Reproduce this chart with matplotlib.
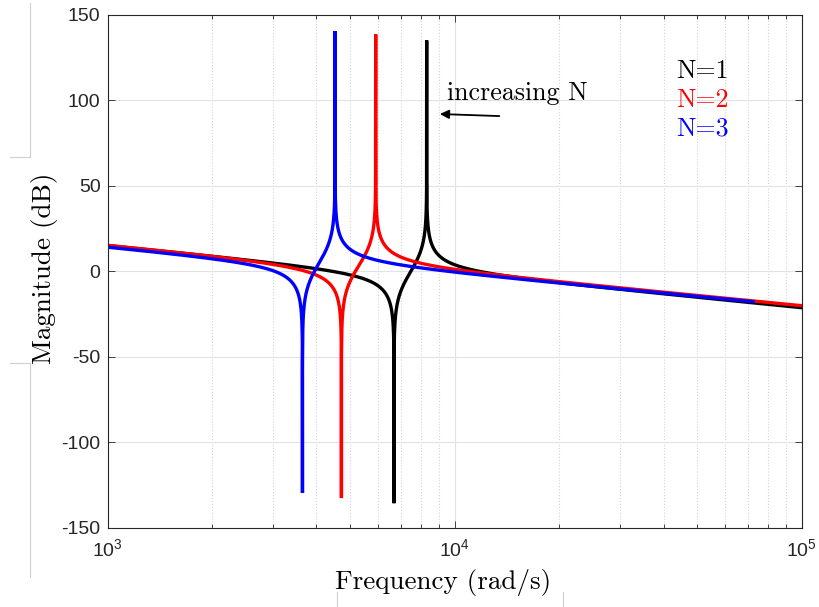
import numpy as np
import matplotlib
matplotlib.use("Agg")
import matplotlib.pyplot as plt
from matplotlib.lines import Line2D

plt.rcParams["font.family"] = ["Liberation Sans", "DejaVu Sans"]
plt.rcParams["axes.unicode_minus"] = False

# --- data -----------------------------------------------------------------
labels = ["N=1", "N=2", "N=3"]
colors = ["#000000", "#ff0000", "#0000ff"]
w_start = [1e3, 1e3, 1e3]              # rad/s
w_end = [1e5, 1e5, 7.24e4]             # rad/s
gain_1k = [15.2, 15.4, 14.4]           # dB at 1 krad/s
slope = [-20.1, -19.7, -19.3]          # dB/decade roll-off
w_zero = [6690.0, 4720.0, 3645.0]      # anti-resonance, rad/s
w_pole = [8309.0, 5925.0, 4524.0]      # resonance, rad/s
peak_db = [135.0, 138.5, 140.5]
notch_db = [-135.5, -132.5, -129.5]

x_ticks = [1e3, 1e4, 1e5]
y_ticks = [-150, -100, -50, 0, 50, 100, 150]


def magnitude_db(w, k):
    with np.errstate(divide="ignore"):
        m = (gain_1k[k] + slope[k] * np.log10(w / 1e3)
             + 20 * np.log10(np.abs(1 - (w / w_zero[k]) ** 2))
             - 20 * np.log10(np.abs(1 - (w / w_pole[k]) ** 2)))
    return np.clip(m, notch_db[k], peak_db[k])


# --- figure ---------------------------------------------------------------
W, H = 819, 607
fig = plt.figure(figsize=(W / 100, H / 100), dpi=100)
L, R, T, B = 107.5, 801.7, 14.8, 528.0
ax = fig.add_axes([L / W, 1 - B / H, (R - L) / W, (B - T) / H])

for k in range(3):
    w = np.logspace(np.log10(w_start[k]), np.log10(w_end[k]), 4000)
    w = np.sort(np.concatenate([w, [w_zero[k], w_pole[k]]]))
    ax.plot(w, magnitude_db(w, k), color=colors[k], lw=2.4,
            solid_joinstyle="miter")

ax.set_xscale("log")
ax.set_xlim(1e3, 1e5)
ax.set_ylim(-150, 150)
ax.set_xticks(x_ticks)
ax.set_yticks(y_ticks)

edge = "#262626"
for s in ax.spines.values():
    s.set_color(edge)
    s.set_linewidth(0.8)
ax.tick_params(which="both", direction="in", top=True, right=True,
               color=edge, labelcolor=edge, width=0.6)
ax.tick_params(which="major", length=5, labelsize=14, pad=5)
ax.tick_params(axis="x", which="major", pad=7)
ax.tick_params(which="minor", length=3)

ax.grid(True, which="major", color="#e2e2e2", lw=0.8, ls="-")
ax.grid(True, which="minor", axis="x", color="#d4d4d4", lw=0.8, ls=":")
ax.set_axisbelow(True)

cm = dict(family="cmr10", color="k")
ax.set_xlabel("Frequency (rad/s)", fontsize=19.5, **cm)
ax.set_ylabel("Magnitude (dB)", fontsize=19.5, **cm)
ax.xaxis.set_label_coords((443 - L) / (R - L), (B - 583) / (B - T))
ax.yaxis.set_label_coords((45 - L) / (R - L), (B - 268) / (B - T))
ax.xaxis.label.set_va("center")
ax.yaxis.label.set_va("center")

# annotation
ax.text(9500, 100.2, "increasing N", fontsize=18.7, va="baseline", ha="left", **cm)
ax.annotate("", xy=(9073, 92.0), xytext=(13450, 90.8),
            arrowprops=dict(arrowstyle="-|>", color="k", lw=1.3,
                            mutation_scale=13, shrinkA=0, shrinkB=0))

# series labels
for k, yb in enumerate([113.0, 96.3, 79.7]):
    ax.text(43350, yb, labels[k], fontsize=18.7, color=colors[k],
            va="baseline", ha="left", family="cmr10")

# faint frame fragments around the axis labels
def px_line(xs, ys):
    fig.add_artist(Line2D([x / W for x in xs], [1 - y / H for y in ys],
                          transform=fig.transFigure, color="#cfcfcf", lw=0.8))

px_line([30, 30], [3, 157])
px_line([10, 30], [157, 157])
px_line([10, 30], [363, 363])
px_line([30, 30], [363, 577])
px_line([337, 337], [592, 607])
px_line([563, 563], [592, 607])

fig.savefig("out.png", dpi=100)
